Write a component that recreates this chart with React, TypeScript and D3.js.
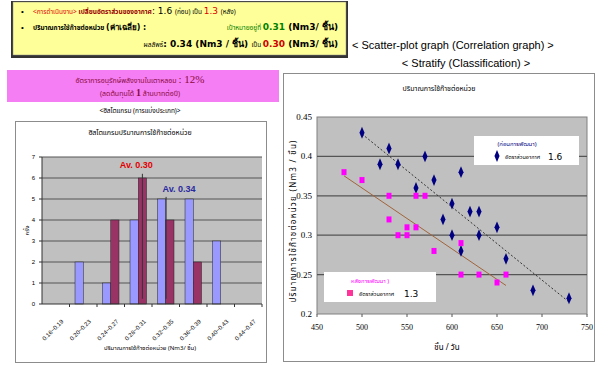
import React from 'react'
import * as d3 from 'd3'

// histogram data
const binLabels = ['0.16~0.19', '0.20~0.23', '0.24~0.27', '0.28~0.31', '0.32~0.35', '0.36~0.39', '0.40~0.43', '0.44~0.47']
const binMids = [0.175, 0.215, 0.255, 0.295, 0.335, 0.375, 0.415, 0.455]
const countBefore = [0, 2, 1, 4, 5, 5, 3, 0]
const countAfter = [0, 0, 4, 6, 4, 2, 0, 0]
const countTicks = [0, 1, 2, 3, 4, 5, 6, 7]
const avgLabels = ['Av. 0.30', 'Av. 0.34']
const avgAt = [0.301, 0.3355]
const avgTop = [6.2, 5.1]

// scatter data (pieces / day vs Nm3 / piece)
const beforeX = [500, 530, 520, 540, 570, 560, 580, 610, 600, 620, 630, 590, 650, 600, 630, 610, 660, 690, 730]
const beforeY = [0.43, 0.41, 0.39, 0.39, 0.40, 0.36, 0.37, 0.38, 0.34, 0.33, 0.33, 0.32, 0.31, 0.30, 0.30, 0.28, 0.27, 0.23, 0.22]
const afterX = [480, 500, 530, 560, 570, 530, 540, 550, 550, 560, 580, 610, 610, 630, 650, 660]
const afterY = [0.38, 0.37, 0.35, 0.35, 0.35, 0.32, 0.30, 0.31, 0.30, 0.31, 0.28, 0.29, 0.25, 0.25, 0.24, 0.25]
const xTicks = [450, 500, 550, 600, 650, 700, 750]
const yTicks = [0.2, 0.25, 0.3, 0.35, 0.4, 0.45]

const thai = "'Noto Sans Thai', Tahoma, 'DejaVu Sans', sans-serif"
const arial = "'Liberation Sans', Arial, sans-serif"
const serif = "'Liberation Serif', 'Times New Roman', serif"
const bold = "'DejaVu Sans', Verdana, sans-serif"

function trend(xs: number[], ys: number[]) {
  const mx = d3.mean(xs) as number
  const my = d3.mean(ys) as number
  const sxy = d3.sum(xs, (x, i) => (x - mx) * (ys[i] - my))
  const sxx = d3.sum(xs, x => (x - mx) * (x - mx))
  const b = sxy / sxx
  const [x0, x1] = d3.extent(xs) as [number, number]
  return [[x0, my + b * (x0 - mx)], [x1, my + b * (x1 - mx)]]
}

function Histogram() {
  const left = 42, right = 262, top = 157, bottom = 304
  const x = d3.scaleBand<string>().domain(binLabels).range([left, right])
  const y = d3.scaleLinear().domain([0, 7]).range([bottom, top])
  const v = d3.scaleLinear().domain([binMids[0], binMids[7]])
    .range([(x(binLabels[0]) as number) + x.bandwidth() / 2, (x(binLabels[7]) as number) + x.bandwidth() / 2])
  const bw = x.bandwidth() * 0.3
  const labelDx = [-6, 13]
  const labelDy = [-6, -5]
  const avgColor = ['#e00000', '#2a2aa0']
  return (
    <g>
      <rect x={15.5} y={121.5} width={251} height={241} fill="#fff" stroke="#8c8c8c" />
      <text x={140} y={135} textAnchor="middle" fontSize={7} fontFamily={thai}>ฮิสโตแกรมปริมาณการใช้ก๊าซต่อหน่วย</text>
      <rect x={left} y={top} width={right - left} height={bottom - top} fill="#c0c0c0" />
      {countTicks.map(t => (
        <g key={t}>
          <line x1={left} x2={right} y1={y(t)} y2={y(t)} stroke="#555" strokeWidth={t === 0 ? 0 : 1} />
          <line x1={left - 3} x2={left} y1={y(t)} y2={y(t)} stroke="#333" />
          <text x={35} y={y(t) + 2} textAnchor="end" fontSize={6} fontFamily={arial}>{t}</text>
        </g>
      ))}
      <text transform={`translate(29,${y(3.5)}) rotate(-90)`} textAnchor="middle" fontSize={6} fontFamily={thai}>ครั้ง</text>
      {binLabels.map((b, i) => {
        const x0 = x(b) as number
        const cx = x0 + x.bandwidth() / 2
        return (
          <g key={b}>
            {countBefore[i] > 0 && <rect x={cx - bw} y={y(countBefore[i])} width={bw} height={bottom - y(countBefore[i])} fill="#9999ff" stroke="#222" strokeWidth={0.5} />}
            {countAfter[i] > 0 && <rect x={cx} y={y(countAfter[i])} width={bw} height={bottom - y(countAfter[i])} fill="#993366" stroke="#222" strokeWidth={0.5} />}
            <line x1={x0 + x.bandwidth()} x2={x0 + x.bandwidth()} y1={bottom} y2={bottom + 3} stroke="#333" />
            <text transform={`translate(${cx + 8},${bottom + 18}) rotate(-45)`} textAnchor="end" fontSize={6} fontFamily={arial}>{b}</text>
          </g>
        )
      })}
      <line x1={left} x2={left} y1={top} y2={bottom} stroke="#333" />
      <line x1={left} x2={right} y1={bottom} y2={bottom} stroke="#333" />
      {avgLabels.map((l, i) => (
        <g key={l}>
          <line x1={v(avgAt[i])} x2={v(avgAt[i])} y1={y(avgTop[i])} y2={y(0.25)} stroke="#333" strokeWidth={1} />
          <text x={v(avgAt[i]) + labelDx[i]} y={y(avgTop[i]) + labelDy[i]} textAnchor="middle" fontSize={9} fontWeight="bold" fill={avgColor[i]} fontFamily={arial}>{l}</text>
        </g>
      ))}
      <text x={150} y={350} textAnchor="middle" fontSize={6} fontFamily={thai}>ปริมาณการใช้ก๊าซต่อหน่วย  (Nm3/ ชิ้น)</text>
    </g>
  )
}

function Scatter() {
  const left = 317, right = 587, top = 117, bottom = 314
  const x = d3.scaleLinear().domain([450, 750]).range([left, right])
  const y = d3.scaleLinear().domain([0.2, 0.45]).range([bottom, top])
  const line = d3.line<number[]>().x(d => x(d[0])).y(d => y(d[1]))
  const diamond = d3.symbol(d3.symbolDiamond, 28)()
  return (
    <g>
      <rect x={283.5} y={73.5} width={311} height={288} fill="#fff" stroke="#8c8c8c" />
      <text x={439} y={91} textAnchor="middle" fontSize={7} fontFamily={thai}>ปริมาณการใช้ก๊าซต่อหน่วย</text>
      <rect x={left} y={top} width={right - left} height={bottom - top} fill="#c0c0c0" stroke="#808080" />
      {yTicks.map(t => (
        <g key={t}>
          {t > 0.2 && t < 0.45 && <line x1={left} x2={right} y1={y(t)} y2={y(t)} stroke="#555" strokeWidth={1.3} />}
          <text x={312} y={y(t) + 3} textAnchor="end" fontSize={9} fontFamily={serif}>{t}</text>
        </g>
      ))}
      {xTicks.map(t => (
        <g key={t}>
          <line x1={x(t)} x2={x(t)} y1={bottom} y2={bottom + 3} stroke="#555" />
          <text x={x(t)} y={bottom + 16} textAnchor="middle" fontSize={8} fontFamily={serif}>{t}</text>
        </g>
      ))}
      <text transform={`translate(296,${(top + bottom) / 2 + 6}) rotate(-90)`} textAnchor="middle" fontSize={8} fontFamily={thai} textLength={162} lengthAdjust="spacing">ปริมาณการใช้ก๊าซต่อหน่วย (Nm3 / ชิ้น)</text>
      <text x={447} y={350} textAnchor="middle" fontSize={8} fontFamily={thai}>ชิ้น / วัน</text>
      <path d={line(trend(afterX, afterY)) as string} fill="none" stroke="#a0643c" strokeWidth={1} />
      <path d={line(trend(beforeX, beforeY)) as string} fill="none" stroke="#333" strokeWidth={1} strokeDasharray="2,2" />
      {beforeX.map((bx, i) => (
        <path key={'b' + i} d={diamond} transform={`translate(${x(bx)},${y(beforeY[i])}) scale(0.9,1.2)`} fill="#000080" />
      ))}
      {afterX.map((ax, i) => (
        <rect key={'a' + i} x={x(ax) - 2.5} y={y(afterY[i]) - 3} width={5} height={6} fill="#ff00ff" />
      ))}
      <rect x={474} y={136} width={105} height={29} fill="#fff" />
      <text x={517} y={146} textAnchor="middle" fontSize={6} fill="#000080" fontFamily={thai}>(ก่อนการพัฒนา)</text>
      <path d={diamond} transform="translate(497,156) scale(0.9,1.2)" fill="#000080" />
      <text x={505} y={159} fontSize={5.5} fontFamily={thai}>อัตราส่วนอากาศ</text>
      <text x={548} y={160} fontSize={9} fontFamily={bold}>1.6</text>
      <rect x={324} y={272} width={112} height={30} fill="#fff" />
      <text x={370} y={283} textAnchor="middle" fontSize={6} fill="#ff00ff" fontFamily={thai}>หลังการพัฒนา )</text>
      <rect x={347} y={290} width={6} height={6} fill="#ff3399" />
      <text x={359} y={296} fontSize={5.5} fontFamily={thai}>อัตราส่วนอากาศ</text>
      <text x={404} y={297} fontSize={9} fontFamily={bold}>1.3</text>
    </g>
  )
}

export default function App() {
  return (
    <svg width={600} height={366} style={{ position: 'absolute', left: 0, top: 0, background: '#fff' }}>
      <rect x={11} y={1} width={337} height={57} fill="#333" />
      <rect x={13} y={2} width={333} height={53} fill="#ffff99" stroke="#888" strokeWidth={0.5} />
      <text x={21} y={14} fontSize={8} fontFamily={arial}>•</text>
      <text x={33} y={14} fontSize={6.5} fontFamily={thai}>
        <tspan fill="#dd0000">&lt;การดำเนินงาน&gt;</tspan>
        <tspan fill="#990000" fontWeight="bold"> เปลี่ยนอัตราส่วนของอากาศ</tspan>
        <tspan fontSize={9} fontFamily={bold}>: 1.6 </tspan>
        <tspan>(ก่อน) เป็น </tspan>
        <tspan fontSize={9} fontFamily={bold} fill="#dd0000">1.3 </tspan>
        <tspan>(หลัง)</tspan>
      </text>
      <text x={21} y={30} fontSize={8} fontFamily={arial}>•</text>
      <text x={33} y={30} fontSize={6.5} fontWeight="bold" fontFamily={thai}>ปริมาณการใช้ก๊าซต่อหน่วย  <tspan fontSize={8} fontFamily={bold}>(ค่าเฉลี่ย) :</tspan></text>
      <text x={338} y={30} textAnchor="end" fontSize={9} fontWeight="bold" fontFamily={bold}>
        <tspan fill="#008000" fontSize={6.5} fontWeight="normal" fontFamily={thai}>เป้าหมายอยู่ที่ </tspan>
        <tspan fill="#008000">0.31 </tspan>
        <tspan>(Nm3/ ชิ้น)</tspan>
      </text>
      <text x={338} y={47} textAnchor="end" fontSize={9} fontWeight="bold" fontFamily={bold}>
        <tspan fontSize={6.5} fontWeight="normal" fontFamily={thai}>ผลลัพธ์</tspan>
        <tspan>: 0.34 (Nm3 / ชิ้น) </tspan>
        <tspan fontSize={6.5} fontWeight="normal" fontFamily={thai}>เป็น </tspan>
        <tspan fill="#cc0000">0.30 </tspan>
        <tspan>(Nm3/ ชิ้น)</tspan>
      </text>
      <text x={352} y={49} fontSize={11} fontFamily={arial}>&lt; Scatter-plot graph (Correlation graph) &gt;</text>
      <text x={466} y={67} textAnchor="middle" fontSize={11} fontFamily={arial}>&lt; Stratify (Classification) &gt;</text>
      <rect x={7} y={70} width={272} height={32} fill="#f57ef5" />
      <text x={140} y={83} textAnchor="middle" fontSize={7} fill="#8b0a3a" fontFamily={thai}>
        อัตราการอนุรักษ์พลังงานในเตาหลอม <tspan fontSize={11} fontFamily={serif}>: 12%</tspan>
      </text>
      <text x={140} y={96} textAnchor="middle" fontSize={7} fill="#8b0a3a" fontFamily={thai}>
        (ลดต้นทุนได้ <tspan fontSize={10} fontFamily={serif} fontWeight="bold">1</tspan> ล้านบาทต่อปี)
      </text>
      <text x={140} y={113} textAnchor="middle" fontSize={6.5} fontFamily={thai}>&lt;ฮิสโตแกรม (การแบ่งประเภท)&gt;</text>
      <Histogram />
      <Scatter />
    </svg>
  )
}
